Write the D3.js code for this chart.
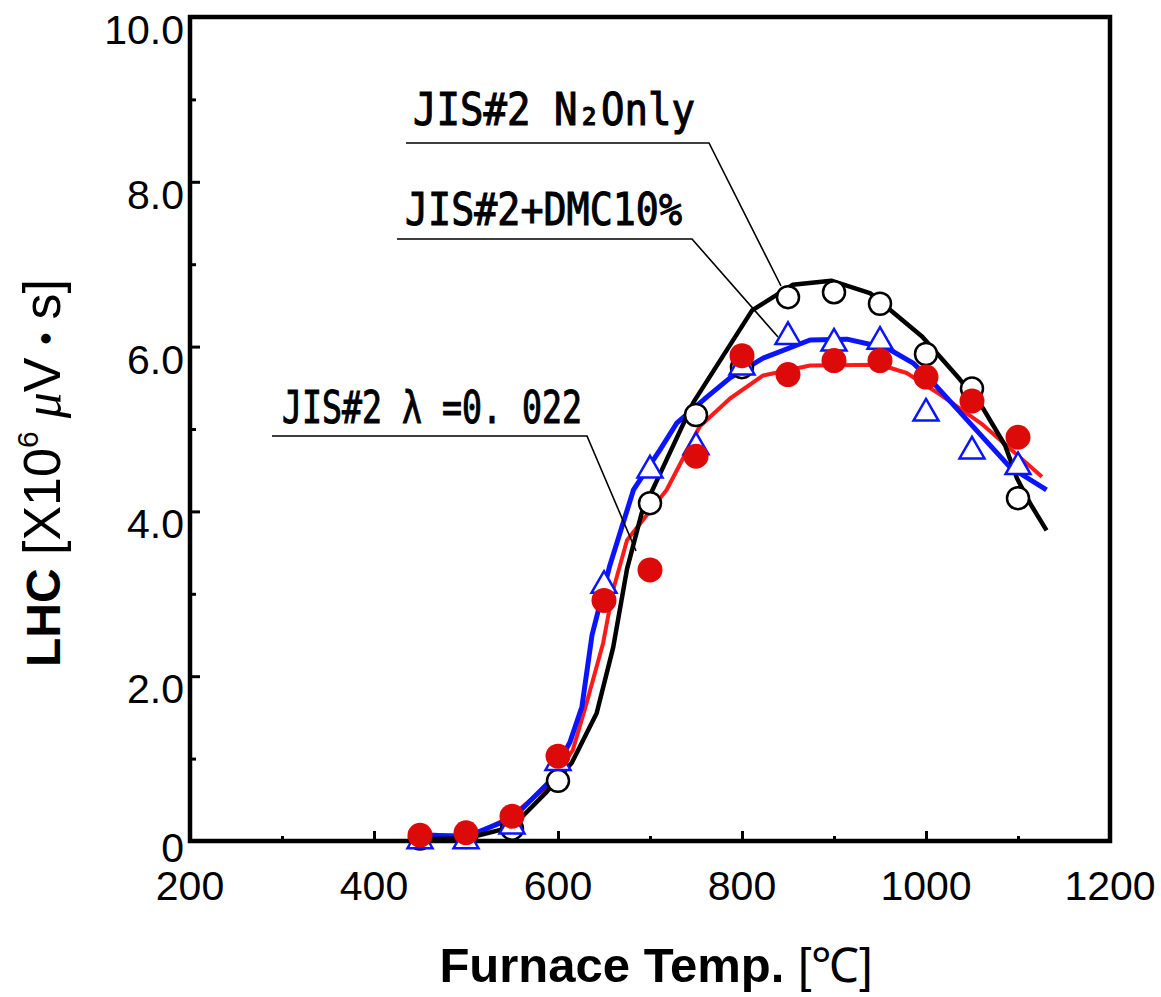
<!DOCTYPE html>
<html>
<head>
<meta charset="utf-8">
<script src="https://cdn.jsdelivr.net/npm/d3@7"></script>
<style>
  body { margin: 0; background: #fff; }
  svg { display: block; }
</style>
</head>
<body>
<div id="chart"></div>
<script>
// measured points (temperature in C, LHC in 10^6 uV*s); null = no point
var temps = [450, 500, 550, 600, 650, 700, 750, 800, 850, 900, 950, 1000, 1050, 1100];
var n2Only = [0.03, 0.05, 0.15, 0.73, null, 4.1, 5.17, 5.75, 6.6, 6.66, 6.52, 5.91, 5.49, 4.16];
var dmc10 = [0.0, 0.0, 0.18, 0.95, 3.1, 4.5, 4.78, 5.75, 6.12, 6.04, 6.06, 5.19, 4.73, 4.54];
var lambda022 = [0.07, 0.1, 0.3, 1.03, 2.92, 3.29, 4.67, 5.89, 5.66, 5.83, 5.83, 5.63, 5.34, 4.9];

// calculated curves
var n2Curve = [[450, 0.02], [500, 0.03], [550, 0.17], [588, 0.6], [615, 0.95], [642, 1.55],
  [660, 2.35], [675, 3.3], [691, 3.98], [747, 5.32], [811, 6.44], [855, 6.75], [897, 6.8],
  [939, 6.65], [996, 6.12], [1037, 5.6], [1062, 5.25], [1086, 4.8], [1099, 4.4], [1113, 4.1], [1131, 3.77]];
var dmcCurve = [[450, 0.08], [500, 0.05], [551, 0.28], [589, 0.7], [613, 1.2], [626, 1.63],
  [637, 2.5], [656, 3.33], [682, 4.26], [711, 4.75], [729, 5.07], [762, 5.39], [787, 5.62],
  [823, 5.86], [874, 6.08], [914, 6.09], [958, 5.98], [986, 5.8], [1008, 5.56], [1091, 4.54], [1131, 4.26]];
var lamCurve = [[450, 0.07], [507, 0.07], [548, 0.29], [588, 0.66], [616, 1.1], [631, 1.67],
  [649, 2.4], [660, 3.05], [675, 3.65], [718, 4.26], [754, 5.03], [787, 5.37], [823, 5.65],
  [874, 5.77], [950, 5.78], [979, 5.68], [1015, 5.42], [1062, 5.05], [1126, 4.42]];

var xTicks = [200, 400, 600, 800, 1000, 1200];
var yTicks = [0, 2, 4, 6, 8, 10];
var yTickLabels = ["0", "2.0", "4.0", "6.0", "8.0", "10.0"];

var w = 1161;
var h = 997;
var mLeft = 190, mRight = 1110, mTop = 17, mBottom = 841;

var x = d3.scaleLinear().domain([200, 1200]).range([mLeft, mRight]);
var y = d3.scaleLinear().domain([0, 10]).range([mBottom, mTop]);

var svg = d3.select("#chart").append("svg").attr("width", w).attr("height", h);

var font = "Liberation Sans, Arial, sans-serif";

// axes (ticks point inward)
var xAxis = svg.append("g").attr("transform", "translate(0," + mBottom + ")")
  .call(d3.axisTop(x).tickValues(d3.range(300, 1200, 100)).tickSize(10).tickFormat(""));
xAxis.selectAll(".tick line").attr("stroke-width", 3)
  .attr("y2", (d) => (d % 200 === 0 ? -10 : -5));
xAxis.select(".domain").remove();

var yAxis = svg.append("g").attr("transform", "translate(" + mLeft + ",0)")
  .call(d3.axisRight(y).tickValues(d3.range(1, 10, 1)).tickSize(10).tickFormat(""));
yAxis.selectAll(".tick line").attr("stroke-width", 3)
  .attr("x2", (d) => (d % 2 === 0 ? 10 : 6));
yAxis.select(".domain").remove();

// tick labels
svg.append("g").selectAll("text").data(xTicks).enter().append("text")
  .attr("x", (d) => x(d)).attr("y", mBottom + 59)
  .attr("text-anchor", "middle")
  .style("font-family", font).style("font-size", "41px")
  .text((d) => d);

svg.append("g").selectAll("text").data(yTicks).enter().append("text")
  .attr("x", mLeft - 6).attr("y", (d) => y(d) + (d === 0 ? 21 : 27))
  .attr("text-anchor", "end")
  .style("font-family", font).style("font-size", "41px")
  .text((d, i) => yTickLabels[i]);

// frame
svg.append("rect")
  .attr("x", mLeft).attr("y", mTop)
  .attr("width", mRight - mLeft).attr("height", mBottom - mTop)
  .attr("fill", "none").attr("stroke", "black").attr("stroke-width", 4.5);

// curves
var line = d3.line().x((d) => x(d[0])).y((d) => y(d[1]));
var curves = [
  { pts: lamCurve, color: "#ff1a1a", width: 4 },
  { pts: dmcCurve, color: "#0a14ff", width: 5 },
  { pts: n2Curve, color: "black", width: 4.5 }
];
svg.append("g").selectAll("path").data(curves).enter().append("path")
  .attr("d", (d) => line(d.pts))
  .attr("fill", "none")
  .attr("stroke", (d) => d.color)
  .attr("stroke-width", (d) => d.width)
  .attr("stroke-linejoin", "round");

// leader lines for the labels
var leaders = [
  [[406, 143], [709, 143], [781, 286]],
  [[397, 239], [692, 239], [778, 337]],
  [[272, 436], [587, 436], [636, 551]]
];
svg.append("g").selectAll("polyline").data(leaders).enter().append("polyline")
  .attr("points", (d) => d.map((p) => p.join(",")).join(" "))
  .attr("fill", "none").attr("stroke", "black").attr("stroke-width", 1.6);

var labels = [
  { text: "JIS#2 N\u2082Only", x: 413, y: 125, len: 282 },
  { text: "JIS#2+DMC10%", x: 405, y: 225, len: 277 },
  { text: "JIS#2 \u03bb =0. 022", x: 282, y: 423, len: 300 }
];
svg.append("g").selectAll("text").data(labels).enter().append("text")
  .attr("x", (d) => d.x).attr("y", (d) => d.y)
  .attr("textLength", (d) => d.len)
  .attr("lengthAdjust", "spacingAndGlyphs")
  .style("font-family", "DejaVu Sans Mono, monospace")
  .style("font-size", "45px")
  .style("stroke", "black").style("stroke-width", 1.1)
  .text((d) => d.text);

// markers
svg.append("g").selectAll("circle").data(temps.filter((d, i) => n2Only[i] != null)).enter().append("circle")
  .attr("cx", (d) => x(d)).attr("cy", (d) => y(n2Only[temps.indexOf(d)]))
  .attr("r", 11).attr("fill", "white").attr("stroke", "black").attr("stroke-width", 2.5);

var tri = d3.symbol().type(d3.symbolTriangle).size(270);
svg.append("g").selectAll("path").data(temps).enter().append("path")
  .attr("d", tri)
  .attr("transform", (d, i) => "translate(" + x(d) + "," + y(dmc10[i]) + ")")
  .attr("fill", "white").attr("stroke", "#0a14ff").attr("stroke-width", 2.5);

svg.append("g").selectAll("circle").data(temps).enter().append("circle")
  .attr("cx", (d) => x(d)).attr("cy", (d, i) => y(lambda022[i]))
  .attr("r", 12.5).attr("fill", "#dd0a0a");

// axis titles
var xt = svg.append("text")
  .attr("x", 656).attr("y", 982)
  .attr("text-anchor", "middle")
  .style("font-family", font).style("font-size", "49px");
xt.append("tspan").style("font-weight", "bold").text("Furnace Temp. ");
xt.append("tspan").style("font-size", "48px").text("[\u2103]");

var yt = svg.append("text")
  .attr("transform", "translate(60,667) rotate(-90)")
  .attr("text-anchor", "start")
  .style("font-family", font).style("font-size", "48px");
yt.append("tspan").style("font-weight", "bold").text("LHC ");
yt.append("tspan").style("font-size", "52px").text("[X10");
yt.append("tspan").attr("dy", -22).style("font-size", "30px").text("6");
yt.append("tspan").attr("dy", 22).style("font-size", "52px").style("font-style", "italic")
  .style("font-family", "Liberation Serif, serif").text(" \u03bc");
yt.append("tspan").style("font-size", "52px").text("V");
yt.append("tspan").style("font-family", "Noto Sans CJK JP, sans-serif").style("font-weight", "bold")
  .style("font-size", "38px").text("\u30fb");
yt.append("tspan").style("font-size", "52px").text("s]");
</script>
</body>
</html>
